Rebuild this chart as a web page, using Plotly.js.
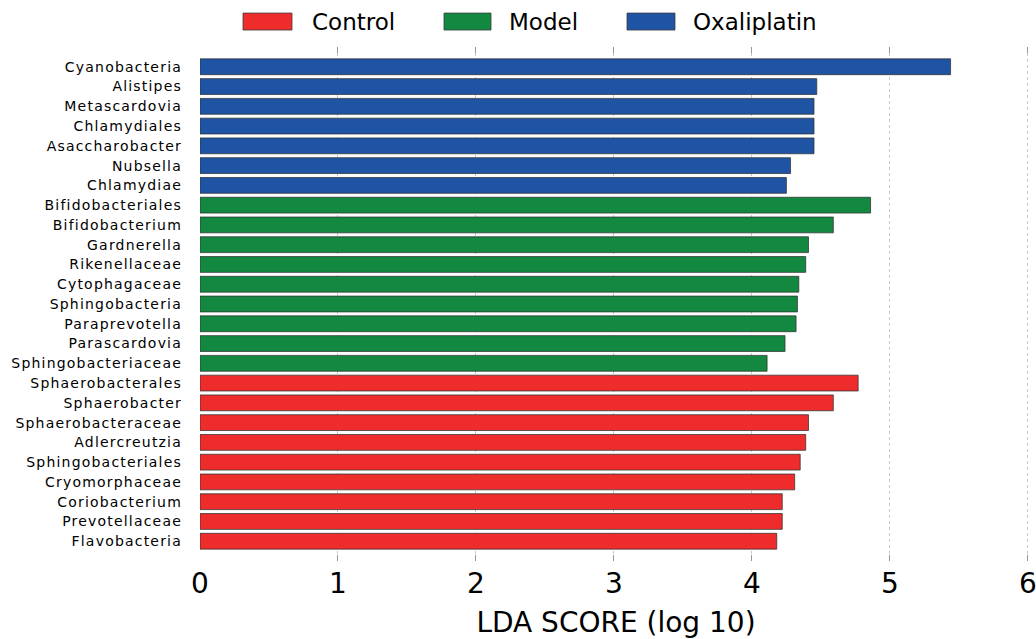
<!DOCTYPE html>
<html>
<head>
<meta charset="utf-8">
<script src="https://cdn.plot.ly/plotly-3.0.1.min.js"></script>
<style>html,body{margin:0;padding:0;background:#fff;}#chart{width:1036px;height:639px;}
.ytick text{letter-spacing:1.2px;}
</style>
</head>
<body>
<div id="chart"></div>
<script>
// ---- data (top to bottom) ----
const oxaliNames = ["Cyanobacteria","Alistipes","Metascardovia","Chlamydiales","Asaccharobacter","Nubsella","Chlamydiae"];
const oxaliScores = [5.44,4.47,4.45,4.45,4.45,4.28,4.25];
const modelNames = ["Bifidobacteriales","Bifidobacterium","Gardnerella","Rikenellaceae","Cytophagaceae","Sphingobacteria","Paraprevotella","Parascardovia","Sphingobacteriaceae"];
const modelScores = [4.86,4.59,4.41,4.39,4.34,4.33,4.32,4.24,4.11];
const controlNames = ["Sphaerobacterales","Sphaerobacter","Sphaerobacteraceae","Adlercreutzia","Sphingobacteriales","Cryomorphaceae","Coriobacterium","Prevotellaceae","Flavobacteria"];
const controlScores = [4.77,4.59,4.41,4.39,4.35,4.31,4.22,4.22,4.18];
const groupNames = ["Control","Model","Oxaliplatin"];
const xTicks = [0,1,2,3,4,5,6];
const axisTitle = "LDA SCORE (log 10)";

const colors = {Control:"#ee2c2c", Model:"#128840", Oxaliplatin:"#1f54a4"};
const allNames = oxaliNames.concat(modelNames, controlNames);

function barTrace(name, ys, xs){
  return {type:"bar", orientation:"h", name:name, x:xs, y:ys, width:0.8,
    marker:{color:colors[name], line:{color:"rgba(50,50,50,0.75)", width:1}},
    showlegend:false, hoverinfo:"x+y"};
}
const traces = [
  barTrace("Oxaliplatin", oxaliNames, oxaliScores),
  barTrace("Model", modelNames, modelScores),
  barTrace("Control", controlNames, controlScores)
];

// custom legend (wide swatches like the original)
const PW = 832;
function px(x){ return (x-200)/PW; }
const legendPx = [[243,292,310],[444,491,507],[627,675,691]];
const shapes = [], annotations = [];
groupNames.forEach((g,i)=>{
  shapes.push({type:"rect", xref:"paper", yref:"paper", x0:px(legendPx[i][0]), x1:px(legendPx[i][1]), y0:1.033, y1:1.066,
    fillcolor:colors[g], line:{color:"rgba(60,60,60,0.8)", width:1}});
  annotations.push({xref:"paper", yref:"paper", x:px(legendPx[i][2]), y:1.0496, xanchor:"left", yanchor:"middle",
    text:g, showarrow:false, font:{family:"DejaVu Sans", size:23, color:"#000"}});
});

const layout = {
  width:1036, height:639,
  margin:{l:200, r:4, t:47, b:78, pad:0},
  paper_bgcolor:"#fff", plot_bgcolor:"#fff",
  barmode:"overlay",
  showlegend:false,
  font:{family:"DejaVu Sans", color:"#000"},
  xaxis:{range:[0,6.03], tickvals:xTicks, ticktext:xTicks.map(String),
    showgrid:true, gridcolor:"#c8c8c8", griddash:"dot", gridwidth:1,
    zeroline:false, showline:false,
    ticks:"inside", ticklen:6, tickcolor:"#999", tickwidth:1, mirror:"ticks",
    tickfont:{family:"DejaVu Sans", size:28, color:"#000"},
    ticklabelstandoff:3, ticklabeloverflow:"allow",
    title:{text:axisTitle, font:{family:"DejaVu Sans", size:28, color:"#000"}, standoff:14}},
  yaxis:{type:"category", categoryorder:"array", categoryarray:allNames,
    range:[25,-1], showgrid:false, zeroline:false, showline:false, ticks:"",
    tickfont:{family:"DejaVu Sans", size:14, color:"#000"}, ticklabelstandoff:17},
  shapes:shapes, annotations:annotations
};
Plotly.newPlot("chart", traces, layout, {displayModeBar:false, staticPlot:true});
</script>
</body>
</html>
